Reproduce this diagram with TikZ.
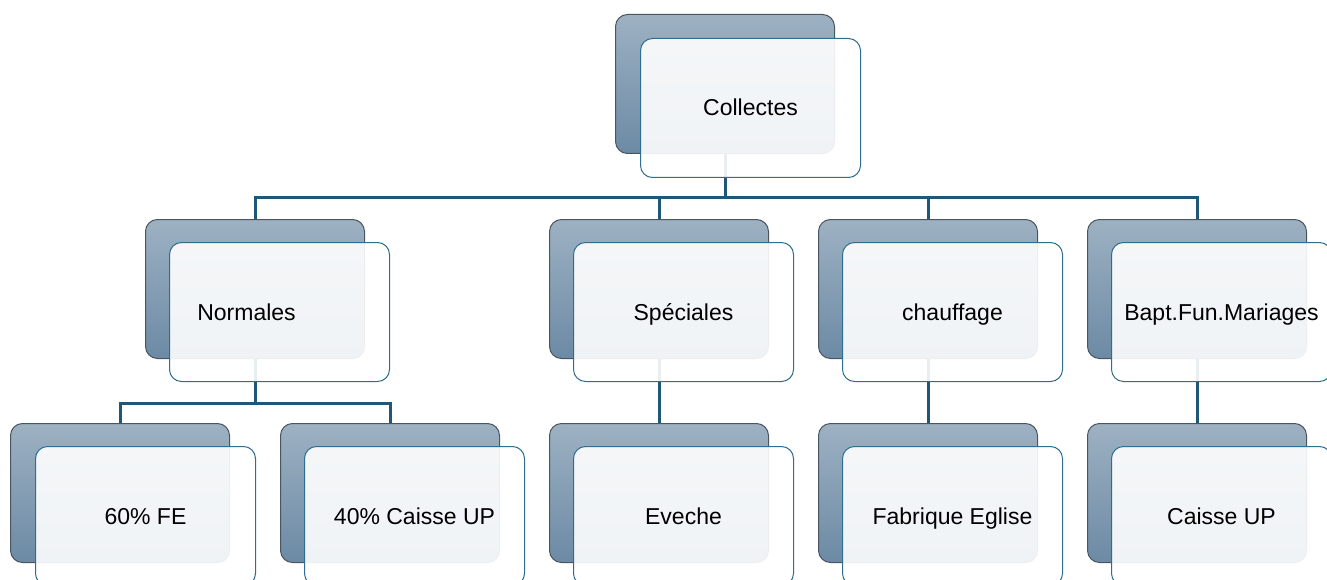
\documentclass[tikz,border=0pt]{standalone}
\usepackage{fontspec}
\setmainfont{Liberation Sans}
\definecolor{backtop}{HTML}{9DB1C2}
\definecolor{backbot}{HTML}{6C8AA5}
\definecolor{backline}{HTML}{4A5560}
\definecolor{frontline}{HTML}{2F6E8D}
\definecolor{connc}{HTML}{1F5877}
\tikzset{
  backbox/.style={draw=backline, line width=1pt, rounded corners=12pt, top color=backtop, bottom color=backbot,
    minimum width=219pt, minimum height=139pt, inner sep=0pt, anchor=north west},
  frontbox/.style={draw=frontline, line width=1pt, rounded corners=12pt, fill=white, fill opacity=0.9, text opacity=1,
    minimum width=220pt, minimum height=139pt, inner sep=0pt, anchor=north west,
    font=\fontsize{23}{27}\selectfont, text height=18pt, text depth=2pt},
  conn/.style={draw=connc, line width=3pt}
}
\begin{document}
\begin{tikzpicture}[x=1pt,y=-1pt]
\useasboundingbox (0,0) rectangle (1327,580);
% back boxes
\node[backbox] (top) at (615,14) {};
\node[backbox] (n) at (145,219) {};
\node[backbox] (s) at (549,219) {};
\node[backbox] (c) at (818,219) {};
\node[backbox] (b) at (1087,219) {};
\node[backbox] (n1) at (10,423) {};
\node[backbox] (n2) at (280,423) {};
\node[backbox] (s1) at (549,423) {};
\node[backbox] (c1) at (818,423) {};
\node[backbox] (b1) at (1087,423) {};
% connectors
\draw[conn] (top.south) -- ++(0,44) -| (n.north);
\draw[conn] (top.south) -- ++(0,44) -| (s.north);
\draw[conn] (top.south) -- ++(0,44) -| (c.north);
\draw[conn] (top.south) -- ++(0,44) -| (b.north);
\draw[conn] (n.south) -- ++(0,44) -| (n1.north);
\draw[conn] (n.south) -- ++(0,44) -| (n2.north);
\draw[conn] (s.south) -- (s1.north);
\draw[conn] (c.south) -- (c1.north);
\draw[conn] (b.south) -- (b1.north);
% front boxes
\node[frontbox] (ftop) at (640,38) {Collectes};
\node[frontbox] (fn) at (169,242) {Normales\hspace*{66pt}};
\node[frontbox] (fs) at (573,242) {Spéciales};
\node[frontbox] (fc) at (842,242) {chauffage};
\node[frontbox] (fb) at (1111,242) {Bapt.Fun.Mariages};
\node[frontbox] (fn1) at (35,446) {60\% FE};
\node[frontbox] (fn2) at (304,446) {40\% Caisse UP};
\node[frontbox] (fs1) at (573,446) {Eveche};
\node[frontbox] (fc1) at (842,446) {Fabrique Eglise};
\node[frontbox] (fb1) at (1111,446) {Caisse UP};
\end{tikzpicture}
\end{document}
